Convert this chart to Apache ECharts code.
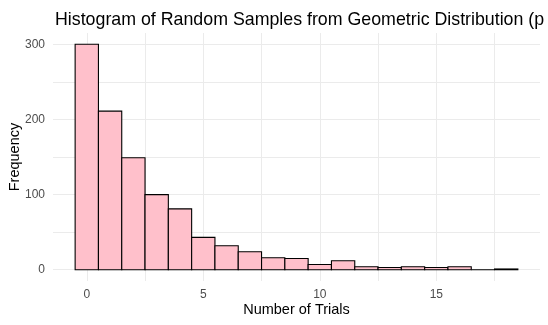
<!DOCTYPE html>
<html>
<head>
<meta charset="utf-8">
<script src="https://cdn.jsdelivr.net/npm/echarts@6/dist/echarts.min.js"></script>
<style>
  html, body { margin: 0; padding: 0; background: #fff; }
  #chart { width: 548px; height: 325px; }
</style>
</head>
<body>
<div id="chart"></div>
<script>
// Number of trials before first success (bin centres, width 1)
const trials = [0, 1, 2, 3, 4, 5, 6, 7, 8, 9, 10, 11, 12, 13, 14, 15, 16, 17, 18];
// Counts per bin
const counts = [300, 211, 149, 100, 81, 43, 32, 24, 16, 15, 7, 12, 4, 3, 4, 3, 4, 0, 1];
// Axis ticks
const xGridValues = [0, 2.5, 5, 7.5, 10, 12.5, 15, 17.5];
const xTickLabels = [0, 5, 10, 15];
const yGridValues = [0, 50, 100, 150, 200, 250, 300];
const yTickLabels = [0, 100, 200, 300];
const binWidth = 1;

const FONT = '"Liberation Sans", Arial, sans-serif';
const chart = echarts.init(document.getElementById('chart'), null, { renderer: 'canvas' });

chart.setOption({
  animation: false,
  backgroundColor: '#ffffff',
  title: {
    text: 'Histogram of Random Samples from Geometric Distribution (p = 0.3)',
    left: 50,
    top: 6,
    textStyle: { fontFamily: FONT, fontSize: 17.8, fontWeight: 'normal', color: '#000000' }
  },
  grid: { left: 53, right: 8, top: 33, bottom: 44, containLabel: false, outerBoundsMode: 'none' },
  xAxis: {
    type: 'value',
    min: -1.45,
    max: 19.45,
    name: 'Number of Trials',
    nameLocation: 'middle',
    nameGap: 21,
    nameMoveOverlap: false,
    nameTextStyle: { fontFamily: FONT, fontSize: 14.5, color: '#000000' },
    axisLine: { show: false },
    axisTick: { show: false, customValues: xGridValues },
    axisLabel: {
      customValues: xTickLabels,
      margin: 8,
      fontFamily: FONT, fontSize: 12, color: '#4D4D4D'
    },
    splitLine: { show: true, lineStyle: { color: '#EBEBEB', width: 1 } }
  },
  yAxis: {
    type: 'value',
    min: -15,
    max: 315,
    name: 'Frequency',
    nameLocation: 'middle',
    nameGap: 31,
    nameMoveOverlap: false,
    nameTextStyle: { fontFamily: FONT, fontSize: 14.5, color: '#000000' },
    axisLine: { show: false },
    axisTick: { show: false, customValues: yGridValues },
    axisLabel: {
      customValues: yTickLabels,
      margin: 8,
      fontFamily: FONT, fontSize: 12, color: '#4D4D4D'
    },
    splitLine: { show: true, lineStyle: { color: '#EBEBEB', width: 1 } }
  },
  series: [{
    type: 'custom',
    data: trials.map((t, i) => [t, counts[i]]),
    encode: { x: 0, y: 1 },
    renderItem: function (params, api) {
      const x = api.value(0);
      const y = api.value(1);
      const p0 = api.coord([x - binWidth / 2, 0]);
      const p1 = api.coord([x + binWidth / 2, y]);
      return {
        type: 'rect',
        shape: { x: p0[0], y: p1[1], width: p1[0] - p0[0], height: p0[1] - p1[1] },
        style: { fill: '#FFC0CB', stroke: '#000000', lineWidth: 1.1 }
      };
    }
  }]
});
</script>
</body>
</html>
